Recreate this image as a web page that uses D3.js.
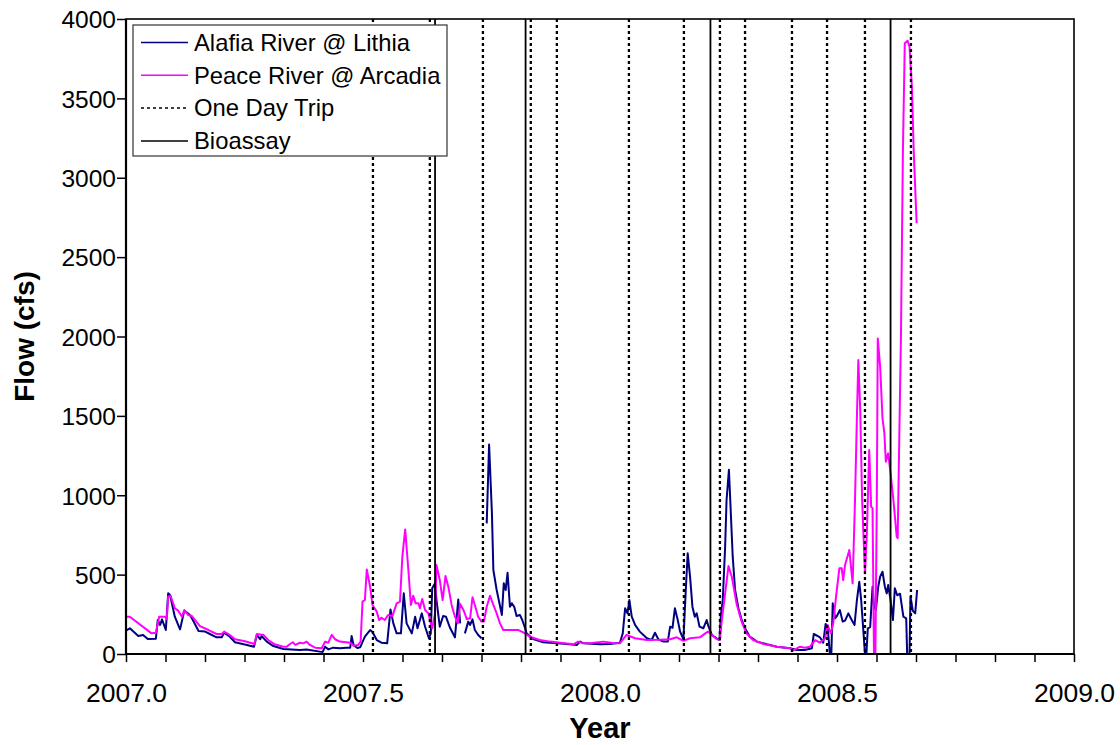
<!DOCTYPE html>
<html>
<head>
<meta charset="utf-8">
<script src="https://cdn.jsdelivr.net/npm/d3@7"></script>
<style>
  html, body { margin: 0; padding: 0; background: #fff; }
  svg { display: block; }
  text { font-family: "Liberation Sans", Arial, sans-serif; fill: #000; }
</style>
</head>
<body>
<svg id="chart" width="1120" height="745"></svg>
<script>
// Daily flow, Alafia River @ Lithia (cfs); null marks a break in the record
const alafiaYear = [
  2007.000, 2007.008, 2007.026, 2007.036, 2007.046, 2007.063, 2007.067, 2007.072, 2007.076, 2007.084,
  2007.089, 2007.093, 2007.103, 2007.114, 2007.123, 2007.135, 2007.141, 2007.153, 2007.167, 2007.177,
  2007.191, 2007.202, 2007.207, 2007.219, 2007.230, 2007.255, 2007.270, 2007.276, 2007.283, 2007.286,
  2007.297, 2007.311, 2007.332, 2007.367, 2007.381, 2007.409, 2007.415, 2007.420, 2007.427, 2007.437,
  2007.451, 2007.466, 2007.473, 2007.476, 2007.480, 2007.488, 2007.494, 2007.504, 2007.515, 2007.520,
  2007.529, 2007.539, 2007.551, 2007.558, 2007.564, 2007.571, 2007.580, 2007.586, 2007.592, 2007.603,
  2007.610, 2007.615, 2007.624, 2007.631, 2007.639, 2007.643, 2007.646, 2007.652, 2007.655, 2007.662,
  2007.669, 2007.675, 2007.684, 2007.694, 2007.701, 2007.705, 2007.710,
  2007.715, 2007.722, 2007.726, 2007.731, 2007.736, 2007.743, 2007.750, 2007.756,
  2007.761, 2007.766, 2007.772, 2007.775, 2007.782, 2007.793, 2007.797, 2007.801, 2007.805, 2007.810,
  2007.814, 2007.819, 2007.824, 2007.831, 2007.836, 2007.842, 2007.845, 2007.859, 2007.880, 2007.909,
  2007.930, 2007.951, 2007.958, 2007.965, 2008.000, 2008.021, 2008.042, 2008.048, 2008.053, 2008.058,
  2008.062, 2008.067, 2008.074, 2008.084, 2008.099, 2008.109, 2008.116, 2008.123, 2008.134, 2008.143,
  2008.148, 2008.153, 2008.158, 2008.164, 2008.169, 2008.176, 2008.181, 2008.185, 2008.190, 2008.195,
  2008.200, 2008.204, 2008.210, 2008.218, 2008.225, 2008.229, 2008.236, 2008.246, 2008.252, 2008.255,
  2008.259, 2008.264, 2008.267, 2008.272, 2008.276, 2008.280, 2008.285, 2008.292, 2008.299, 2008.306,
  2008.316, 2008.331, 2008.352, 2008.373, 2008.401, 2008.415, 2008.432, 2008.447, 2008.451, 2008.458,
  2008.464, 2008.471, 2008.476, 2008.480, 2008.485, 2008.488, 2008.491, 2008.496, 2008.500, 2008.506,
  2008.512, 2008.517, 2008.524, 2008.531, 2008.537, 2008.542, 2008.547, 2008.551, 2008.556, 2008.559,
  2008.562, 2008.565, 2008.570, 2008.575, 2008.578, 2008.582, 2008.587, 2008.591, 2008.596, 2008.601,
  2008.605, 2008.608, 2008.613, 2008.618, 2008.622, 2008.627, 2008.633, 2008.640, 2008.646, 2008.648,
  2008.653, 2008.655, 2008.660, 2008.665, 2008.669
];
const alafiaFlow = [
  147, 162, 113, 120, 94, 96, 214, 183, 218, 151,
  382, 372, 235, 155, 273, 246, 214, 145, 141, 126,
  105, 105, 134, 109, 74, 57, 46, 120, 93, 113,
  78, 50, 31, 25, 29, 15, 13, 46, 29, 40,
  36, 40, 40, 113, 57, 38, 42, 109, 151, 139,
  88, 71, 67, 281, 193, 130, 130, 382, 193, 130,
  235, 162, 256, 172, 99, 130, 414, 445, 340, 172,
  239, 235, 162, 105, 344, 193, null,
  130, 204, 183, 218, 151, 120, 99, null,
  823, 1320, 886, 529, 403, 246, 445, 403, 512, 298,
  320, 298, 239, 246, 214, 162, 130, 94, 74, 67,
  63, 57, 78, 67, 61, 63, 71, 130, 288, 256,
  340, 235, 183, 141, 99, 88, 134, 93, 78, 78,
  172, 165, 288, 214, 141, 93, 403, 634, 487, 298,
  235, 256, 172, 162, 214, 172, 120, 99, 88, 246,
  340, 676, 970, 1160, 886, 613, 403, 288, 214, 162,
  109, 78, 61, 46, 36, 25, 25, 36, 126, 115,
  105, 71, 189, 180, 0, 0, 319, 225, 240, 277,
  204, 210, 256, 214, 183, 340, 455, 340, 130, 0,
  0, 162, 170, 424, 300, 277, 424, 487, 518, 424,
  382, 435, 340, 214, 414, 370, 380, 235, 225, 0,
  0, 361, 272, 256, 403
];

// Daily flow, Peace River @ Arcadia (cfs)
const peaceYear = [
  2007.000, 2007.008, 2007.054, 2007.063, 2007.070, 2007.082, 2007.086, 2007.089, 2007.094, 2007.103,
  2007.110, 2007.118, 2007.123, 2007.131, 2007.139, 2007.156, 2007.174, 2007.191, 2007.202, 2007.207,
  2007.219, 2007.230, 2007.251, 2007.271, 2007.276, 2007.290, 2007.300, 2007.314, 2007.332, 2007.339,
  2007.346, 2007.352, 2007.357, 2007.367, 2007.374, 2007.381, 2007.388, 2007.399, 2007.413, 2007.420,
  2007.427, 2007.434, 2007.441, 2007.451, 2007.473, 2007.480, 2007.490, 2007.495, 2007.499, 2007.504,
  2007.508, 2007.515, 2007.520, 2007.529, 2007.534, 2007.539, 2007.546, 2007.553, 2007.562, 2007.571,
  2007.578, 2007.583, 2007.589, 2007.596, 2007.601, 2007.606, 2007.611, 2007.617, 2007.620, 2007.625,
  2007.631, 2007.638, 2007.643, 2007.646, 2007.652, 2007.655, 2007.662, 2007.668, 2007.674, 2007.680,
  2007.687, 2007.694, 2007.700, 2007.705, 2007.712, 2007.719, 2007.726, 2007.731, 2007.736, 2007.743,
  2007.750, 2007.755, 2007.761, 2007.768, 2007.775, 2007.782, 2007.789, 2007.796, 2007.810, 2007.828,
  2007.838, 2007.852, 2007.873, 2007.895, 2007.916, 2007.944, 2007.954, 2007.962, 2007.979, 2008.007,
  2008.027, 2008.042, 2008.056, 2008.074, 2008.099, 2008.127, 2008.148, 2008.162, 2008.176, 2008.190,
  2008.211, 2008.222, 2008.228, 2008.236, 2008.246, 2008.253, 2008.257, 2008.264, 2008.271, 2008.278,
  2008.288, 2008.299, 2008.309, 2008.323, 2008.345, 2008.373, 2008.401, 2008.408, 2008.422, 2008.432,
  2008.443, 2008.454, 2008.464, 2008.475, 2008.480, 2008.487, 2008.492, 2008.498, 2008.505, 2008.510,
  2008.513, 2008.517, 2008.526, 2008.533, 2008.538, 2008.542, 2008.545, 2008.549, 2008.553, 2008.559,
  2008.563, 2008.568, 2008.572, 2008.575, 2008.578, 2008.581, 2008.584, 2008.586, 2008.591, 2008.596,
  2008.600, 2008.603, 2008.608, 2008.613, 2008.619, 2008.626, 2008.628, 2008.631, 2008.635, 2008.639,
  2008.643, 2008.649, 2008.653, 2008.658, 2008.662, 2008.668
];
const peaceFlow = [
  235, 235, 130, 134, 235, 235, 220, 361, 367, 288,
  273, 235, 277, 246, 239, 176, 151, 126, 126, 141,
  120, 93, 80, 63, 126, 120, 88, 61, 46, 46,
  63, 74, 57, 71, 67, 78, 57, 40, 36, 78,
  71, 120, 93, 78, 71, 52, 57, 78, 330, 340,
  533, 424, 309, 267, 214, 228, 214, 246, 239, 319,
  330, 613, 785, 518, 309, 367, 319, 320, 288, 346,
  277, 256, 193, 162, 256, 561, 466, 340, 491, 424,
  309, 235, 193, 315, 277, 220, 225, 357, 309, 235,
  204, 204, 298, 367, 309, 256, 193, 151, 151, 151,
  136, 109, 88, 78, 71, 61, 78, 70, 67, 78,
  70, 67, 120, 99, 88, 90, 93, 105, 83, 99,
  105, 130, 141, 120, 95, 88, 214, 382, 554, 487,
  319, 202, 130, 88, 63, 46, 36, 23, 46, 40,
  46, 88, 71, 99, 183, 130, 193, 361, 540, 540,
  466, 561, 655, 445, 970, 1495, 1852, 1537, 970, 508,
  760, 1285, 928, 920, 0, 0, 970, 1988, 1810, 1485,
  1390, 1211, 1264, 1138, 970, 739, 730, 1285, 2022, 3156,
  3847, 3863, 3825, 3573, 3156, 2713
];

// Sampling dates (decimal year)
const tripYears = [2007.521, 2007.641, 2007.753, 2007.854, 2007.909, 2008.061, 2008.177,
                   2008.253, 2008.306, 2008.405, 2008.479, 2008.559, 2008.656];
const bioassayYears = [2007.652, 2007.843, 2008.233, 2008.613];

// Axis ticks and labels
const yTicks = [0, 500, 1000, 1500, 2000, 2500, 3000, 3500, 4000];
const xTickLabels = ["2007.0", "2007.5", "2008.0", "2008.5", "2009.0"];
const legendLabels = ["Alafia River @ Lithia", "Peace River @ Arcadia", "One Day Trip", "Bioassay"];

const plot = { left: 126, top: 19, right: 1074, bottom: 654 };
const NAVY = "#000080", MAGENTA = "#FF00FF";

const svg = d3.select("#chart");

const x = d3.scaleLinear().domain([2007, 2009]).range([plot.left, plot.right]);
const y = d3.scaleLinear().domain([0, 4000]).range([plot.bottom, plot.top]);

// Y axis
const yAxis = d3.axisLeft(y).tickValues(yTicks).tickSize(9).tickPadding(1).tickFormat(d3.format("d"));
const gy = svg.append("g").attr("transform", `translate(${plot.left},0)`).call(yAxis);
gy.select(".domain").remove();
gy.selectAll(".tick line").attr("stroke", "#000").attr("stroke-width", 1.5);
gy.selectAll(".tick text").style("font-size", "24.5px").attr("dy", "0.36em");

// X axis: monthly ticks, labels every half year
const monthTicks = d3.range(25).map(i => 2007 + i / 12);
const xAxis = d3.axisBottom(x).tickValues(monthTicks).tickSize(8)
  .tickFormat((d, i) => (i % 6 === 0 ? xTickLabels[i / 6] : ""));
const gx = svg.append("g").attr("transform", `translate(0,${plot.bottom})`).call(xAxis);
gx.select(".domain").remove();
gx.selectAll(".tick line").attr("stroke", "#000").attr("stroke-width", 1.5);
gx.selectAll(".tick text").style("font-size", "26.5px").attr("y", 48).attr("dy", 0);

// Flow series
const line = d3.line()
  .defined(d => d[1] !== null)
  .x(d => x(d[0]))
  .y(d => y(d[1]));

const alafia = alafiaYear.map((t, i) => [t, alafiaFlow[i]]);
const peace = peaceYear.map((t, i) => [t, peaceFlow[i]]);

svg.append("path").datum(alafia)
  .attr("d", line).attr("fill", "none").attr("stroke", NAVY)
  .attr("stroke-width", 2).attr("stroke-linejoin", "round");
svg.append("path").datum(peace)
  .attr("d", line).attr("fill", "none").attr("stroke", MAGENTA)
  .attr("stroke-width", 2).attr("stroke-linejoin", "round");

// Sampling event markers
svg.append("g").selectAll("line").data(tripYears).join("line")
  .attr("x1", d => x(d)).attr("x2", d => x(d))
  .attr("y1", y(4000)).attr("y2", y(0))
  .attr("stroke", "#000").attr("stroke-width", 2.3).attr("stroke-dasharray", "3,3");
svg.append("g").selectAll("line").data(bioassayYears).join("line")
  .attr("x1", d => x(d)).attr("x2", d => x(d))
  .attr("y1", y(4000)).attr("y2", y(0))
  .attr("stroke", "#000").attr("stroke-width", 1.8);

// Plot frame
svg.append("rect")
  .attr("x", plot.left).attr("y", plot.top)
  .attr("width", plot.right - plot.left).attr("height", plot.bottom - plot.top)
  .attr("fill", "none").attr("stroke", "#000").attr("stroke-width", 1.6);
svg.append("line").attr("x1", plot.left).attr("x2", plot.right)
  .attr("y1", plot.bottom).attr("y2", plot.bottom)
  .attr("stroke", "#000").attr("stroke-width", 2.2);
svg.append("line").attr("x1", plot.left).attr("x2", plot.left)
  .attr("y1", plot.top).attr("y2", plot.bottom)
  .attr("stroke", "#000").attr("stroke-width", 2.2);

// Legend
const lg = svg.append("g").attr("transform", "translate(133,25)");
lg.append("rect").attr("width", 314).attr("height", 131)
  .attr("fill", "#fff").attr("stroke", "#333").attr("stroke-width", 1.2);
const legendStyles = [
  { stroke: NAVY, width: 1.5, dash: null },
  { stroke: MAGENTA, width: 1.5, dash: null },
  { stroke: "#000", width: 1.5, dash: "3,3" },
  { stroke: "#000", width: 1.5, dash: null }
];
legendLabels.forEach((lab, i) => {
  const cy = 17.5 + i * 32.8;
  lg.append("line").attr("x1", 8).attr("x2", 55).attr("y1", cy).attr("y2", cy)
    .attr("stroke", legendStyles[i].stroke).attr("stroke-width", legendStyles[i].width)
    .attr("stroke-dasharray", legendStyles[i].dash);
  lg.append("text").attr("x", 61).attr("y", cy).attr("dy", "0.35em")
    .style("font-size", "23.8px").text(lab);
});

// Axis titles
svg.append("text").attr("x", (plot.left + plot.right) / 2).attr("y", 738)
  .attr("text-anchor", "middle").style("font-size", "29px").style("font-weight", "bold")
  .text("Year");
svg.append("text").attr("transform", `translate(34,${(plot.top + plot.bottom) / 2}) rotate(-90)`)
  .attr("text-anchor", "middle").style("font-size", "28px").style("font-weight", "bold")
  .text("Flow (cfs)");
</script>
</body>
</html>
